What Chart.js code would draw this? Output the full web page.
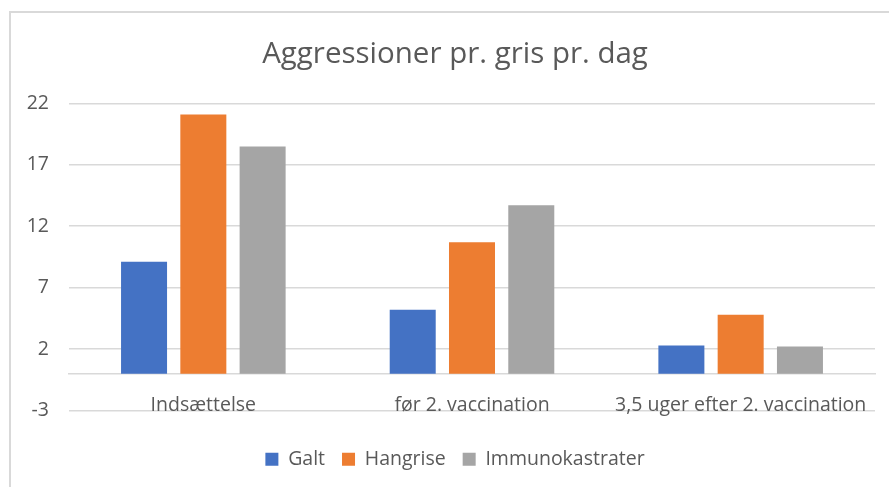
<!DOCTYPE html>
<html>
<head>
<meta charset="utf-8">
<script src="https://cdn.jsdelivr.net/npm/chart.js@4"></script>
<style>
  body { margin: 0; background: #fff; }
  #wrap { position: relative; width: 889px; height: 487px; overflow: hidden; }
  #frame { position: absolute; left: 9px; top: 11px; right: -10px; bottom: -10px;
           border-left: 2px solid #d9d9d9; border-top: 2px solid #d9d9d9; }
</style>
</head>
<body>
<div id="wrap">
  <div id="frame"></div>
  <canvas id="chart"></canvas>
</div>
<script>
const categories = ["Indsættelse", "før 2. vaccination", "3,5 uger efter 2. vaccination"];
const galt = [9.1, 5.2, 2.3];
const hangrise = [21.1, 10.7, 4.8];
const immunokastrater = [18.5, 13.7, 2.2];
const yTicks = [-3, 2, 7, 12, 17, 22];

const textColor = "#595959";
const gridColor = "#d9d9d9";
const fontFamily = "'Open Sans', sans-serif";

// empty axis used only to reserve space (no ticks, no lines)
const spacer = size => ({
    display: true,
    grid: { display: false },
    border: { display: false },
    ticks: { display: false },
    afterFit: s => { if (s.isHorizontal()) s.height = size; else s.width = size; }
});

new Chart(document.getElementById("chart"), {
    type: "bar",
    data: {
        labels: categories,
        datasets: [
            { label: "Galt", data: galt, backgroundColor: "#4472C4" },
            { label: "Hangrise", data: hangrise, backgroundColor: "#ED7D31" },
            { label: "Immunokastrater", data: immunokastrater, backgroundColor: "#A5A5A5" }
        ]
    },
    options: {
        responsive: true,
        maintainAspectRatio: false,
        animation: false,
        categoryPercentage: 0.662,
        barPercentage: 0.776,
        layout: { padding: { left: 26, right: 5, top: 0, bottom: 8 } },
        plugins: {
            title: {
                display: true,
                text: "Aggressioner pr. gris pr. dag",
                color: textColor,
                font: { family: fontFamily, size: 29.5, weight: "normal" },
                padding: { top: 37, bottom: 31 }
            },
            legend: {
                position: "bottom",
                labels: {
                    color: textColor,
                    font: { family: fontFamily, size: 19.5 },
                    boxWidth: 13,
                    boxHeight: 13,
                    padding: 17
                }
            },
            tooltip: { enabled: false }
        },
        scales: {
            x: {
                position: { y: 0 },
                grid: { display: false },
                border: { display: true, color: gridColor, width: 1.5 },
                ticks: {
                    color: textColor,
                    font: { family: fontFamily, size: 19.5 },
                    padding: 12,
                    maxRotation: 0
                }
            },
            y: {
                min: -3,
                max: 22,
                afterBuildTicks: s => { s.ticks = yTicks.map(v => ({ value: v })); },
                afterFit: s => { s.width = 43; },
                grid: { color: gridColor, lineWidth: 1.5, drawTicks: false },
                border: { display: false },
                ticks: {
                    color: textColor,
                    font: { family: fontFamily, size: 19.5 },
                    padding: 20
                }
            },
            xBottom: Object.assign({ type: "category", position: "bottom" }, spacer(22)),
            yRight: Object.assign({ type: "linear", position: "right" }, spacer(9))
        }
    }
});
</script>
</body>
</html>
